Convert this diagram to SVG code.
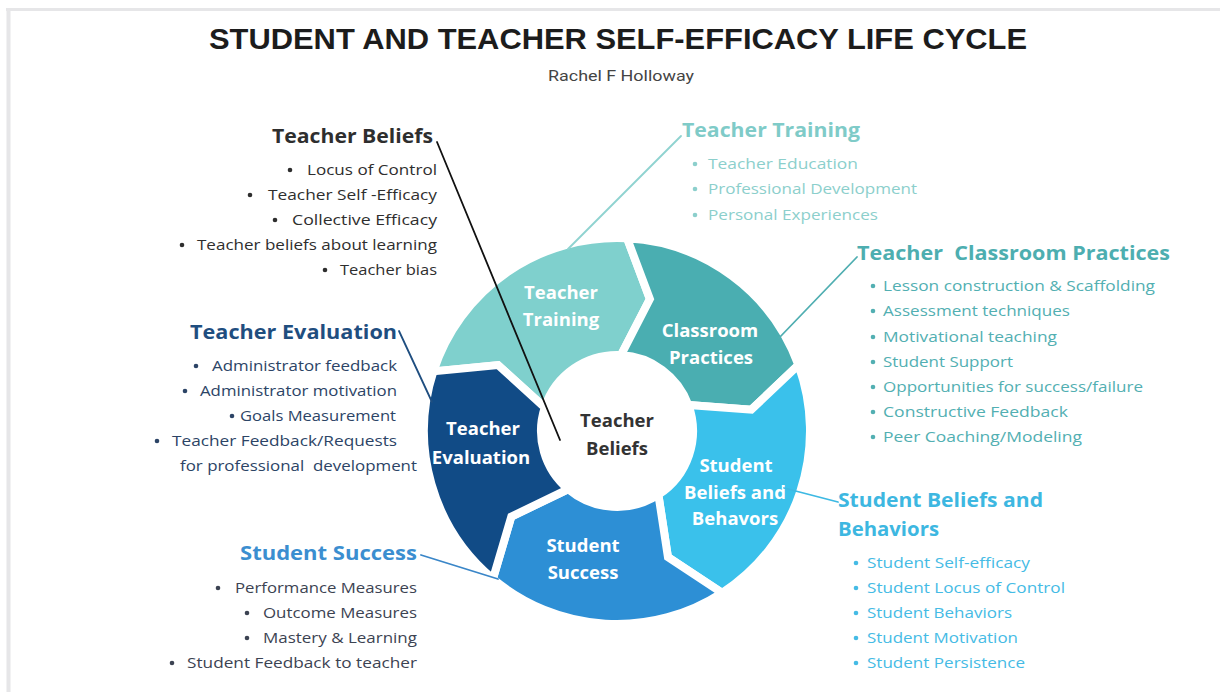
<svg xmlns="http://www.w3.org/2000/svg" width="1220" height="692" viewBox="0 0 1220 692">
  <style>
    .f { font-family: "Open Sans", "Liberation Sans", sans-serif; }
    .title { font-family: "Liberation Sans", "Roboto", sans-serif; font-weight: 700; font-size: 30px; fill: #1c1c1c; }
    .sub { font-family: "Roboto", "Liberation Sans", sans-serif; font-size: 14px; fill: #444; }
    .h { font-weight: 700; font-size: 19px; white-space: pre; }
    .i { font-size: 15px; }
    .seg { fill: #fff; stroke: #fff; stroke-width: 8; stroke-linejoin: miter; }
    .lbl { font-weight: 700; font-size: 18.5px; fill: #fff; text-anchor: middle; }
    .conn { fill: none; stroke-width: 1.8; stroke-linecap: round; }
    .beliefs { fill: #2e2e2e; }
    .training { fill: #8ccfcc; }
    .classroom { fill: #52afb2; }
    .student { fill: #45bbe5; }
    .success { fill: #3c4352; }
    .evaluation { fill: #2c4466; }
  </style>

  <rect width="1220" height="692" fill="#ffffff"/>
  <!-- frame edge -->
  <line x1="6" y1="9.5" x2="1220" y2="9.5" stroke="#e6e6e8" stroke-width="3"/>
  <line x1="8.5" y1="9" x2="8.5" y2="692" stroke="#e6e6e8" stroke-width="4"/>

  <!-- heading -->
  <text class="title" x="209" y="49" textLength="818" lengthAdjust="spacingAndGlyphs">STUDENT AND TEACHER SELF-EFFICACY LIFE CYCLE</text>
  <text class="sub" x="548" y="81" textLength="146" lengthAdjust="spacingAndGlyphs">Rachel F Holloway</text>

  <!-- cycle ring: centre (617,431) -->
  <g id="ring-teacher-training">
    <path class="seg" style="fill:#7fd0cd" d="M433.45,371.36 A193,193 0 0 1 627.10,238.26 L649.90,299.04 L620.98,355.10 A76,76 0 0 0 544.72,407.51 L498.05,365.07 Z"/>
    <text class="f lbl" x="561" y="299">Teacher</text>
    <text class="f lbl" x="561" y="326">Training</text>
  </g>
  <g id="ring-classroom-practices">
    <path class="seg" style="fill:#4aaeb1" d="M627.10,238.26 A193,193 0 0 1 798.36,364.99 L751.33,409.73 L688.42,405.01 A76,76 0 0 0 620.98,355.10 L649.90,299.04 Z"/>
    <text class="f lbl" x="710" y="337">Classroom</text>
    <text class="f lbl" x="711" y="364">Practices</text>
  </g>
  <g id="ring-student-beliefs">
    <path class="seg" style="fill:#3ac1eb" d="M798.36,364.99 A193,193 0 0 1 722.12,592.86 L667.95,557.10 L658.39,494.74 A76,76 0 0 0 688.42,405.01 L751.33,409.73 Z"/>
    <text class="f lbl" x="736" y="472">Student</text>
    <text class="f lbl" x="735" y="499">Beliefs and</text>
    <text class="f lbl" x="735" y="525">Behavors</text>
  </g>
  <g id="ring-student-success">
    <path class="seg" style="fill:#2d8fd5" d="M722.12,592.86 A193,193 0 0 1 492.94,578.85 L511.31,516.59 L568.15,489.22 A76,76 0 0 0 658.39,494.74 L667.95,557.10 Z"/>
    <text class="f lbl" x="583" y="552">Student</text>
    <text class="f lbl" x="583" y="579">Success</text>
  </g>
  <g id="ring-teacher-evaluation">
    <path class="seg" style="fill:#114b86" d="M492.94,578.85 A193,193 0 0 1 433.45,371.36 L498.05,365.07 L544.72,407.51 A76,76 0 0 0 568.15,489.22 L511.31,516.59 Z"/>
    <text class="f lbl" x="483" y="435">Teacher</text>
    <text class="f lbl" x="481" y="464">Evaluation</text>
  </g>
  <g id="ring-centre">
    <text class="f lbl" x="617" y="427" style="fill:#333333">Teacher</text>
    <text class="f lbl" x="617" y="455" style="fill:#333333">Beliefs</text>
  </g>

  <!-- connectors, drawn over the ring -->
  <g id="connectors">
    <line class="conn" x1="437" y1="142" x2="560" y2="440" stroke="#111111" stroke-width="2.2"/>
    <line class="conn" x1="681" y1="136" x2="568" y2="249" stroke="#8fd3d0"/>
    <line class="conn" x1="857" y1="257" x2="779" y2="338" stroke="#4faeb1"/>
    <line class="conn" x1="784" y1="488" x2="838" y2="502" stroke="#3db9e3"/>
    <line class="conn" x1="421" y1="555" x2="498" y2="579" stroke="#3a86c8"/>
    <line class="conn" x1="399" y1="331" x2="432" y2="402" stroke="#1f4e80"/>
  </g>

  <!-- Teacher Beliefs list -->
  <g id="teacher-beliefs" class="f">
    <text class="h beliefs" x="272" y="143" textLength="161" lengthAdjust="spacingAndGlyphs">Teacher Beliefs</text>
    <g class="beliefs">
      <circle cx="290" cy="170" r="2.3"/>
      <circle cx="250" cy="195" r="2.3"/>
      <circle cx="275" cy="220" r="2.3"/>
      <circle cx="182" cy="245" r="2.3"/>
      <circle cx="325" cy="270" r="2.3"/>
    </g>
    <text class="i beliefs" x="307" y="175" textLength="130" lengthAdjust="spacingAndGlyphs">Locus of Control</text>
    <text class="i beliefs" x="268" y="200" textLength="169" lengthAdjust="spacingAndGlyphs">Teacher Self -Efficacy</text>
    <text class="i beliefs" x="292" y="225" textLength="145" lengthAdjust="spacingAndGlyphs">Collective Efficacy</text>
    <text class="i beliefs" x="197" y="250" textLength="240" lengthAdjust="spacingAndGlyphs">Teacher beliefs about learning</text>
    <text class="i beliefs" x="340" y="275" textLength="97" lengthAdjust="spacingAndGlyphs">Teacher bias</text>
  </g>

  <!-- Teacher Training list -->
  <g id="teacher-training" class="f">
    <text class="h" x="682" y="137" textLength="178" lengthAdjust="spacingAndGlyphs" fill="#7fcbc8">Teacher Training</text>
    <g class="training">
      <circle cx="695" cy="164" r="2.3"/>
      <circle cx="695" cy="189" r="2.3"/>
      <circle cx="695" cy="215" r="2.3"/>
    </g>
    <text class="i training" x="708" y="169" textLength="150" lengthAdjust="spacingAndGlyphs">Teacher Education</text>
    <text class="i training" x="708" y="194" textLength="209" lengthAdjust="spacingAndGlyphs">Professional Development</text>
    <text class="i training" x="708" y="220" textLength="170" lengthAdjust="spacingAndGlyphs">Personal Experiences</text>
  </g>

  <!-- Teacher Classroom Practices list -->
  <g id="teacher-classroom-practices" class="f">
    <text class="h" x="857" y="260" textLength="313" lengthAdjust="spacingAndGlyphs" fill="#4daeb0">Teacher  Classroom Practices</text>
    <g class="classroom">
      <circle cx="873" cy="286" r="2.3"/>
      <circle cx="873" cy="311" r="2.3"/>
      <circle cx="873" cy="337" r="2.3"/>
      <circle cx="873" cy="362" r="2.3"/>
      <circle cx="873" cy="387" r="2.3"/>
      <circle cx="873" cy="412" r="2.3"/>
      <circle cx="873" cy="437" r="2.3"/>
    </g>
    <text class="i classroom" x="883" y="291" textLength="272" lengthAdjust="spacingAndGlyphs">Lesson construction &amp; Scaffolding</text>
    <text class="i classroom" x="883" y="316" textLength="187" lengthAdjust="spacingAndGlyphs">Assessment techniques</text>
    <text class="i classroom" x="883" y="342" textLength="174" lengthAdjust="spacingAndGlyphs">Motivational teaching</text>
    <text class="i classroom" x="883" y="367" textLength="130" lengthAdjust="spacingAndGlyphs">Student Support</text>
    <text class="i classroom" x="883" y="392" textLength="260" lengthAdjust="spacingAndGlyphs">Opportunities for success/failure</text>
    <text class="i classroom" x="883" y="417" textLength="185" lengthAdjust="spacingAndGlyphs">Constructive Feedback</text>
    <text class="i classroom" x="883" y="442" textLength="199" lengthAdjust="spacingAndGlyphs">Peer Coaching/Modeling</text>
  </g>

  <!-- Student Beliefs and Behaviors list -->
  <g id="student-beliefs-behaviors" class="f">
    <text class="h" x="838" y="507" textLength="205" lengthAdjust="spacingAndGlyphs" fill="#3db7e1">Student Beliefs and</text>
    <text class="h" x="838" y="536" textLength="101" lengthAdjust="spacingAndGlyphs" fill="#3db7e1">Behaviors</text>
    <g class="student">
      <circle cx="856" cy="563" r="2.3"/>
      <circle cx="856" cy="588" r="2.3"/>
      <circle cx="856" cy="613" r="2.3"/>
      <circle cx="856" cy="638" r="2.3"/>
      <circle cx="856" cy="663" r="2.3"/>
    </g>
    <text class="i student" x="867" y="568" textLength="163" lengthAdjust="spacingAndGlyphs">Student Self-efficacy</text>
    <text class="i student" x="867" y="593" textLength="198" lengthAdjust="spacingAndGlyphs">Student Locus of Control</text>
    <text class="i student" x="867" y="618" textLength="145" lengthAdjust="spacingAndGlyphs">Student Behaviors</text>
    <text class="i student" x="867" y="643" textLength="151" lengthAdjust="spacingAndGlyphs">Student Motivation</text>
    <text class="i student" x="867" y="668" textLength="158" lengthAdjust="spacingAndGlyphs">Student Persistence</text>
  </g>

  <!-- Student Success list -->
  <g id="student-success" class="f">
    <text class="h" x="240" y="560" textLength="177" lengthAdjust="spacingAndGlyphs" fill="#3b8ed0">Student Success</text>
    <g class="success">
      <circle cx="218" cy="588" r="2.3"/>
      <circle cx="247" cy="613" r="2.3"/>
      <circle cx="247" cy="638" r="2.3"/>
      <circle cx="172" cy="663" r="2.3"/>
    </g>
    <text class="i success" x="235" y="593" textLength="182" lengthAdjust="spacingAndGlyphs">Performance Measures</text>
    <text class="i success" x="263" y="618" textLength="154" lengthAdjust="spacingAndGlyphs">Outcome Measures</text>
    <text class="i success" x="263" y="643" textLength="154" lengthAdjust="spacingAndGlyphs">Mastery &amp; Learning</text>
    <text class="i success" x="187" y="668" textLength="230" lengthAdjust="spacingAndGlyphs">Student Feedback to teacher</text>
  </g>

  <!-- Teacher Evaluation list -->
  <g id="teacher-evaluation" class="f">
    <text class="h" x="190" y="339" textLength="207" lengthAdjust="spacingAndGlyphs" fill="#1f4e7f">Teacher Evaluation</text>
    <g class="evaluation">
      <circle cx="196" cy="366" r="2.3"/>
      <circle cx="185" cy="391" r="2.3"/>
      <circle cx="232" cy="416" r="2.3"/>
      <circle cx="157" cy="441" r="2.3"/>
    </g>
    <text class="i evaluation" x="212" y="371" textLength="185" lengthAdjust="spacingAndGlyphs">Administrator feedback</text>
    <text class="i evaluation" x="200" y="396" textLength="197" lengthAdjust="spacingAndGlyphs">Administrator motivation</text>
    <text class="i evaluation" x="240" y="421" textLength="156" lengthAdjust="spacingAndGlyphs">Goals Measurement</text>
    <text class="i evaluation" x="172" y="446" textLength="225" lengthAdjust="spacingAndGlyphs">Teacher Feedback/Requests</text>
    <text class="i evaluation" x="180" y="471" textLength="237" lengthAdjust="spacingAndGlyphs" style="white-space:pre">for professional  development</text>
  </g>
</svg>
